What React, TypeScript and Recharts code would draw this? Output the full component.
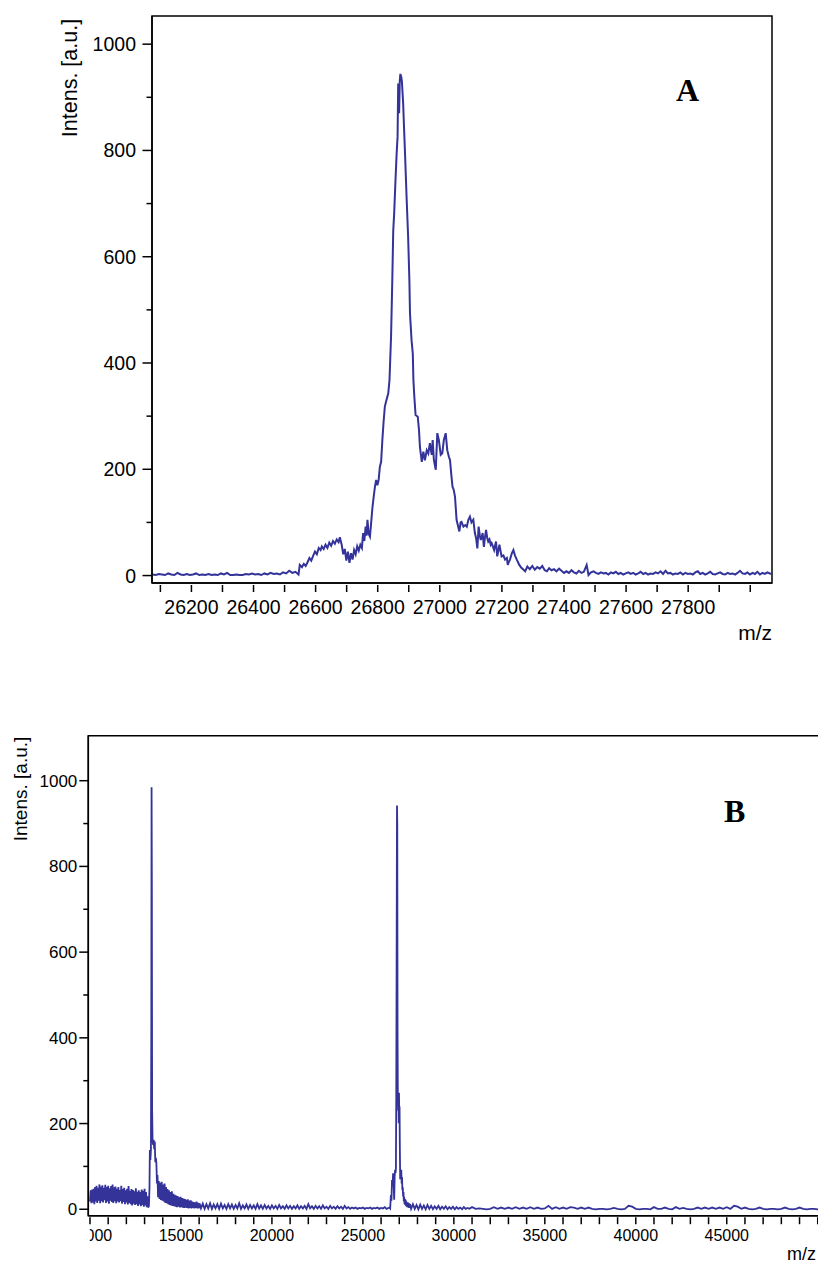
import React from 'react';
import { LineChart, Line, XAxis, YAxis, ReferenceArea } from 'recharts';

// ---------- Panel A : zoomed spectrum (m/z, intensity) ----------
const topSpectrum: [number, number][] = [
  [26075, 2], [26085, 1], [26095, 3], [26105, 2], [26115, 1], [26125, 4], [26135, 2], [26145, 1], [26155, 5], [26165, 2],
  [26175, 1], [26185, 3], [26195, 1], [26205, 2], [26215, 4], [26225, 1], [26235, 2], [26245, 1], [26255, 3], [26265, 1],
  [26275, 2], [26285, 1], [26295, 4], [26305, 2], [26315, 5], [26325, 1], [26335, 1], [26345, 2], [26355, 1], [26365, 1],
  [26375, 3], [26385, 2], [26395, 4], [26405, 2], [26415, 3], [26425, 1], [26435, 4], [26445, 2], [26455, 5], [26465, 3],
  [26475, 4], [26485, 2], [26495, 6], [26505, 4], [26515, 9], [26525, 5], [26535, 7], [26545, 2],
  [26549, 20], [26556, 16], [26562, 22], [26568, 18], [26574, 25], [26580, 33], [26586, 28], [26592, 37], [26598, 45], [26604, 40],
  [26610, 52], [26616, 48], [26620, 55], [26626, 50], [26632, 58], [26638, 52], [26644, 62], [26650, 56], [26656, 65], [26662, 60],
  [26668, 68], [26674, 63], [26678, 72], [26684, 58], [26689, 40], [26694, 50], [26699, 28], [26704, 45], [26709, 24], [26714, 42],
  [26719, 30], [26724, 48], [26729, 40], [26734, 55], [26739, 47], [26744, 58], [26749, 52], [26753, 80], [26757, 65], [26761, 92],
  [26764, 75], [26767, 105], [26771, 78], [26775, 73], [26779, 100], [26783, 128], [26787, 148], [26791, 167], [26795, 180], [26799, 170],
  [26803, 180], [26807, 205], [26811, 214], [26815, 255], [26819, 290], [26823, 318], [26828, 330], [26834, 343], [26838, 368], [26843, 450],
  [26847, 556], [26850, 649], [26853, 681], [26857, 740], [26861, 794], [26864, 826], [26866, 926], [26867, 880], [26868, 926], [26869, 870],
  [26871, 930], [26873, 944], [26876, 938], [26878, 929], [26882, 888], [26885, 840], [26888, 794], [26893, 712], [26898, 637], [26902, 556],
  [26904, 493], [26909, 443], [26913, 418], [26915, 368], [26918, 336], [26922, 302], [26929, 299], [26933, 274], [26936, 242], [26942, 214],
  [26947, 233], [26952, 217], [26958, 236], [26963, 230], [26968, 249], [26974, 227], [26977, 255], [26981, 217], [26987, 199], [26992, 268],
  [26997, 255], [27003, 227], [27008, 230], [27013, 255], [27019, 268], [27024, 236], [27029, 224], [27033, 217], [27037, 190], [27041, 167],
  [27045, 161], [27049, 148], [27054, 105], [27058, 95], [27063, 83], [27067, 100], [27070, 101], [27076, 92], [27082, 95], [27087, 92],
  [27092, 105], [27097, 111], [27102, 100], [27108, 105], [27113, 80], [27117, 70], [27121, 51], [27125, 92], [27129, 75], [27132, 67],
  [27138, 80], [27142, 54], [27145, 70], [27149, 86], [27153, 70], [27156, 64], [27160, 68], [27164, 58], [27167, 61], [27171, 55],
  [27175, 48], [27181, 64], [27185, 36], [27188, 45], [27192, 58], [27196, 45], [27199, 36], [27205, 38], [27210, 30], [27216, 33],
  [27219, 20], [27222, 25], [27226, 30], [27232, 42], [27237, 48], [27242, 38], [27248, 30], [27252, 25], [27256, 20], [27262, 15],
  [27268, 12], [27275, 8], [27282, 17], [27290, 12], [27298, 18], [27306, 11], [27314, 16], [27322, 13], [27330, 18], [27338, 10],
  [27345, 8], [27352, 14], [27360, 10], [27368, 12], [27376, 8], [27384, 13], [27392, 9], [27400, 5], [27408, 8], [27416, 5],
  [27424, 10], [27432, 6], [27440, 4], [27448, 9], [27456, 5], [27464, 7], [27473, 20], [27479, 1], [27487, 6], [27495, 8],
  [27503, 5], [27511, 3], [27519, 6], [27527, 4], [27535, 5], [27543, 2], [27551, 6], [27559, 4], [27567, 7], [27575, 3],
  [27583, 5], [27591, 2], [27599, 4], [27607, 6], [27615, 3], [27623, 5], [27631, 2], [27639, 4], [27647, 7], [27655, 3],
  [27663, 5], [27671, 2], [27679, 4], [27687, 3], [27695, 6], [27703, 4], [27711, 8], [27719, 3], [27727, 9], [27735, 4],
  [27743, 5], [27751, 2], [27759, 4], [27767, 3], [27775, 6], [27783, 2], [27791, 5], [27799, 3], [27807, 4], [27815, 2],
  [27823, 6], [27831, 8], [27839, 3], [27847, 5], [27855, 2], [27863, 4], [27871, 7], [27879, 3], [27887, 2], [27895, 4],
  [27903, 6], [27911, 3], [27919, 2], [27927, 5], [27935, 3], [27943, 4], [27951, 2], [27959, 5], [27967, 9], [27975, 4],
  [27983, 3], [27991, 6], [27999, 2], [28007, 5], [28015, 3], [28023, 7], [28031, 2], [28039, 5], [28047, 3], [28055, 6],
  [28063, 4], [28070, 3],
];

const topXTicks = [26100, 26200, 26300, 26400, 26500, 26600, 26700, 26800, 26900, 27000, 27100, 27200, 27300, 27400, 27500, 27600, 27700, 27800, 27900, 28000];
const topXLabels = [26200, 26400, 26600, 26800, 27000, 27200, 27400, 27600, 27800];
const topYTicks = [0, 100, 200, 300, 400, 500, 600, 700, 800, 900, 1000];
const yLabels = [0, 200, 400, 600, 800, 1000];

// ---------- Panel B : full spectrum ----------
const lowMassNoiseStart = 10000;
const lowMassNoiseStep = 40;
const lowMassNoise = [
  18, 44, 14, 46, 16, 48, 12, 52, 18, 55,
  15, 50, 20, 58, 14, 53, 19, 56, 16, 50,
  21, 57, 15, 52, 18, 55, 13, 49, 20, 54,
  17, 58, 15, 51, 19, 53, 14, 48, 18, 52,
  16, 45, 19, 55, 13, 47, 17, 50, 12, 44,
  16, 48, 11, 54, 15, 43, 12, 47, 9, 45,
  13, 42, 10, 49, 12, 41, 8, 44, 11, 40,
  7, 46, 10, 43, 6, 48, 9, 40, 5, 30,
];

const firstPeak: [number, number][] = [
  [13200, 4], [13240, 8], [13270, 50], [13290, 138], [13320, 115], [13350, 140], [13370, 420], [13385, 985], [13400, 760], [13415, 230],
  [13440, 160], [13470, 150], [13500, 162], [13530, 140], [13560, 158], [13590, 110], [13620, 120], [13650, 107], [13680, 60], [13710, 80],
];

const decayNoiseStart = 13740;
const decayNoiseStep = 40;
const decayNoise = [
  28, 66, 24, 62, 22, 64, 20, 58, 18, 60,
  15, 52, 14, 47, 12, 44, 10, 40, 9, 42,
  8, 36, 7, 34, 6, 32, 5, 31, 6, 28,
  4, 29, 5, 26, 4, 25, 3, 24, 4, 22,
  3, 23, 2, 20, 3, 21, 2, 18, 3, 17,
  2, 16, 3, 18, 2, 15, 2, 14,
];

const baselineNoiseStart = 16100;
const baselineNoiseStep = 100;
const baselineNoise = [
  2, 13, 1, 12, 2, 14, 1, 11, 2, 12,
  1, 13, 2, 10, 1, 12, 2, 11, 1, 10,
  2, 14, 1, 9, 2, 11, 1, 10, 2, 9,
  1, 12, 2, 9, 1, 10, 2, 8, 1, 9,
  2, 8, 1, 10, 2, 7, 1, 9, 2, 8,
  1, 7, 2, 9, 1, 7, 2, 8, 1, 12,
  2, 7, 1, 8, 2, 7, 1, 9, 2, 6,
  1, 8, 2, 6, 1, 7, 2, 6, 1, 8,
  2, 5, 1, 4, 2, 4, 1, 3, 2, 4,
  1, 3, 2, 4, 1, 3, 2, 4, 1, 3,
  2, 5, 1, 3,
];

const secondPeak: [number, number][] = [
  [26460, 4], [26500, 2], [26540, 33], [26570, 20], [26600, 68], [26630, 55], [26660, 84], [26690, 60], [26720, 22], [26745, 75],
  [26770, 92], [26795, 85], [26815, 95], [26835, 271], [26855, 600], [26875, 942], [26890, 900], [26905, 420], [26920, 271], [26940, 230],
  [26955, 262], [26970, 201], [26985, 272], [27000, 215], [27015, 240], [27030, 150], [27050, 70], [27070, 92], [27090, 80], [27110, 92],
  [27130, 60], [27150, 75], [27170, 45], [27190, 52], [27210, 30], [27230, 40], [27250, 18], [27270, 29], [27290, 12], [27310, 24],
  [27330, 10], [27350, 22], [27370, 8], [27390, 18], [27410, 6], [27430, 15], [27450, 5], [27470, 16], [27490, 4], [27510, 13],
  [27530, 3], [27550, 14], [27570, 3], [27590, 12],
];

const tailNoiseStart = 27650;
const tailNoiseStep = 100;
const tailNoise = [1, 12, 1, 10, 0, 11, 1, 9, 0, 10, 1, 8, 0, 7, 1, 8, 0, 6, 1, 7, 0, 5, 1, 6, 0, 5, 1, 4, 0, 5, 1, 3, 1];

const highMassStart = 31000;
const highMassStep = 200;
const highMass = [
  5, 1, 2, 1, 0, 1, 5, 1, 4, 1,
  4, 1, 5, 1, 4, 1, 5, 1, 4, 1,
  2, 8, 1, 5, 1, 4, 1, 5, 4, 1,
  4, 1, 4, 1, 0, 1, 1, 0, 1, 3,
  1, 0, 1, 8, 6, 1, 0, 1, 1, 0,
  5, 1, 1, 4, 1, 0, 5, 1, 3, 1,
  0, 1, 4, 1, 4, 1, 4, 1, 4, 1,
  5, 1, 8, 6, 1, 4, 1, 0, 1, 4,
  1, 0, 1, 1, 0, 1, 4, 1, 0, 1,
  4, 1, 0, 1, 1, 0, 1, 1,
];

const bottomXTicks = [
  10000, 11000, 12000, 13000, 14000, 15000, 16000, 17000, 18000, 19000, 20000, 21000, 22000, 23000, 24000, 25000,
  26000, 27000, 28000, 29000, 30000, 31000, 32000, 33000, 34000, 35000, 36000, 37000, 38000, 39000, 40000, 41000,
  42000, 43000, 44000, 45000, 46000, 47000, 48000, 49000, 50000,
];
const bottomXLabels = [10000, 15000, 20000, 25000, 30000, 35000, 40000, 45000];
const bottomYTicks = [0, 100, 200, 300, 400, 500, 600, 700, 800, 900, 1000];

// ---------- build data tables ----------
const topData = topSpectrum.map(([mz, intensity]) => ({ mz, intensity }));

const grid = (start: number, step: number, values: number[]) =>
  values.map((intensity, i) => ({ mz: start + i * step, intensity }));
const pairs = (arr: [number, number][]) => arr.map(([mz, intensity]) => ({ mz, intensity }));

const bottomData = [
  ...grid(lowMassNoiseStart, lowMassNoiseStep, lowMassNoise),
  ...pairs(firstPeak),
  ...grid(decayNoiseStart, decayNoiseStep, decayNoise),
  ...grid(baselineNoiseStart, baselineNoiseStep, baselineNoise),
  ...pairs(secondPeak),
  ...grid(tailNoiseStart, tailNoiseStep, tailNoise),
  ...grid(highMassStart, highMassStep, highMass),
].sort((a, b) => a.mz - b.mz);

// ---------- styling ----------
const FONT = "'Liberation Sans', Arial, Helvetica, sans-serif";
const LINE_COLOR = '#333399';
const TOP_X_DOMAIN: [number, number] = [26073, 28070];
const TOP_Y_DOMAIN: [number, number] = [-14, 1053];
const BOT_X_DOMAIN: [number, number] = [9907, 50400];
const BOT_Y_DOMAIN: [number, number] = [-15, 1105];

const TopXTick = (props: any) => {
  const { x, y, payload } = props;
  const v = payload.value;
  return (
    <g>
      <line x1={x} x2={x} y1={y + 2} y2={y + 9} stroke="#000" strokeWidth={1.5} />
      {topXLabels.includes(v) && (
        <text x={x} y={y + 31} textAnchor="middle" fontSize={19.5} fontFamily={FONT} fill="#000">
          {v}
        </text>
      )}
    </g>
  );
};

const TopYTick = (props: any) => {
  const { x, y, payload } = props;
  const v = payload.value;
  const major = yLabels.includes(v);
  return (
    <g>
      <line x1={x - (major ? 9.5 : 5.5)} x2={x} y1={y} y2={y} stroke="#000" strokeWidth={1.5} />
      {major && (
        <text x={x - 16} y={y + 7} textAnchor="end" fontSize={19.5} fontFamily={FONT} fill="#000">
          {v}
        </text>
      )}
    </g>
  );
};

const BottomXTick = (props: any) => {
  const { x, y, payload } = props;
  const v = payload.value;
  const clipId = 'clip-bottom-tick-' + v;
  return (
    <g>
      <defs>
        <clipPath id={clipId}>
          <rect x={89.8} y={0} width={2000} height={2000} />
        </clipPath>
      </defs>
      <line x1={x} x2={x} y1={y + 1.5} y2={y + 8.5} stroke="#000" strokeWidth={1.5} />
      {bottomXLabels.includes(v) && (
        <text
          x={x}
          y={y + 25}
          textAnchor="middle"
          fontSize={16}
          fontFamily={FONT}
          fill="#000"
          clipPath={`url(#${clipId})`}
        >
          {v}
        </text>
      )}
    </g>
  );
};

const BottomYTick = (props: any) => {
  const { x, y, payload } = props;
  const v = payload.value;
  const major = yLabels.includes(v);
  return (
    <g>
      <line x1={x - (major ? 9 : 5)} x2={x} y1={y} y2={y} stroke="#000" strokeWidth={1.5} />
      {major && (
        <text x={x - 11} y={y + 6} textAnchor="end" fontSize={17} fontFamily={FONT} fill="#000">
          {v}
        </text>
      )}
    </g>
  );
};

export default function App() {
  return (
    <div
      style={{
        position: 'absolute',
        left: 0,
        top: 0,
        width: 818,
        height: 1264,
        overflow: 'hidden',
        background: '#fff',
      }}
    >
      {/* Panel A */}
      <div style={{ position: 'absolute', left: 0, top: 0 }}>
        <LineChart width={818} height={660} data={topData} margin={{ top: 16, right: 46, bottom: 17, left: 0 }}>
          <XAxis
            dataKey="mz"
            type="number"
            domain={TOP_X_DOMAIN}
            allowDataOverflow
            ticks={topXTicks}
            interval={0}
            tickSize={0}
            tickMargin={0}
            tickLine={false}
            axisLine={{ stroke: '#000', strokeWidth: 1.5 }}
            tick={TopXTick}
            height={60}
          />
          <YAxis
            type="number"
            domain={TOP_Y_DOMAIN}
            allowDataOverflow
            ticks={topYTicks}
            interval={0}
            tickSize={0}
            tickMargin={0}
            tickLine={false}
            axisLine={{ stroke: '#000', strokeWidth: 1.5 }}
            tick={TopYTick}
            width={152}
          />
          <ReferenceArea
            x1={TOP_X_DOMAIN[0]}
            x2={TOP_X_DOMAIN[1]}
            y1={TOP_Y_DOMAIN[0]}
            y2={TOP_Y_DOMAIN[1]}
            fill="none"
            fillOpacity={0}
            stroke="#000"
            strokeWidth={1.5}
            ifOverflow="visible"
          />
          <Line
            type="linear"
            dataKey="intensity"
            stroke={LINE_COLOR}
            strokeWidth={2}
            dot={false}
            activeDot={false}
            isAnimationActive={false}
          />
        </LineChart>
      </div>

      {/* Panel B */}
      <div style={{ position: 'absolute', left: 0, top: 700 }}>
        <LineChart width={870} height={564} data={bottomData} margin={{ top: 35.7, right: 45, bottom: 0, left: 0 }}>
          <XAxis
            dataKey="mz"
            type="number"
            domain={BOT_X_DOMAIN}
            allowDataOverflow
            ticks={bottomXTicks}
            interval={0}
            tickSize={0}
            tickMargin={0}
            tickLine={false}
            axisLine={{ stroke: '#000', strokeWidth: 1.5 }}
            tick={BottomXTick}
            height={48.3}
          />
          <YAxis
            type="number"
            domain={BOT_Y_DOMAIN}
            allowDataOverflow
            ticks={bottomYTicks}
            interval={0}
            tickSize={0}
            tickMargin={0}
            tickLine={false}
            axisLine={{ stroke: '#000', strokeWidth: 1.5 }}
            tick={BottomYTick}
            width={88.3}
          />
          <ReferenceArea
            x1={BOT_X_DOMAIN[0]}
            x2={BOT_X_DOMAIN[1]}
            y1={BOT_Y_DOMAIN[0]}
            y2={BOT_Y_DOMAIN[1]}
            fill="none"
            fillOpacity={0}
            stroke="#000"
            strokeWidth={1.5}
            ifOverflow="visible"
          />
          <Line
            type="linear"
            dataKey="intensity"
            stroke={LINE_COLOR}
            strokeWidth={1.8}
            dot={false}
            activeDot={false}
            isAnimationActive={false}
          />
        </LineChart>
      </div>

      {/* Text overlay: axis titles and panel letters */}
      <svg
        width={818}
        height={1264}
        style={{ position: 'absolute', left: 0, top: 0, pointerEvents: 'none' }}
      >
        <text transform="translate(77,78) rotate(-90)" textAnchor="middle" fontSize={21.5} fontFamily={FONT} fill="#000">
          Intens. [a.u.]
        </text>
        <text x={772} y={640} textAnchor="end" fontSize={21} fontFamily={FONT} fill="#000">
          m/z
        </text>
        <text x={676} y={101} fontSize={32} fontWeight="bold" fontFamily="'Liberation Serif', 'Times New Roman', serif" fill="#000">
          A
        </text>

        <text transform="translate(27,789) rotate(-90)" textAnchor="middle" fontSize={19} fontFamily={FONT} fill="#000">
          Intens. [a.u.]
        </text>
        <text x={787} y={1260} fontSize={18} fontFamily={FONT} fill="#000">
          m/z
        </text>
        <text x={724} y={822} fontSize={32} fontWeight="bold" fontFamily="'Liberation Serif', 'Times New Roman', serif" fill="#000">
          B
        </text>
      </svg>
    </div>
  );
}
